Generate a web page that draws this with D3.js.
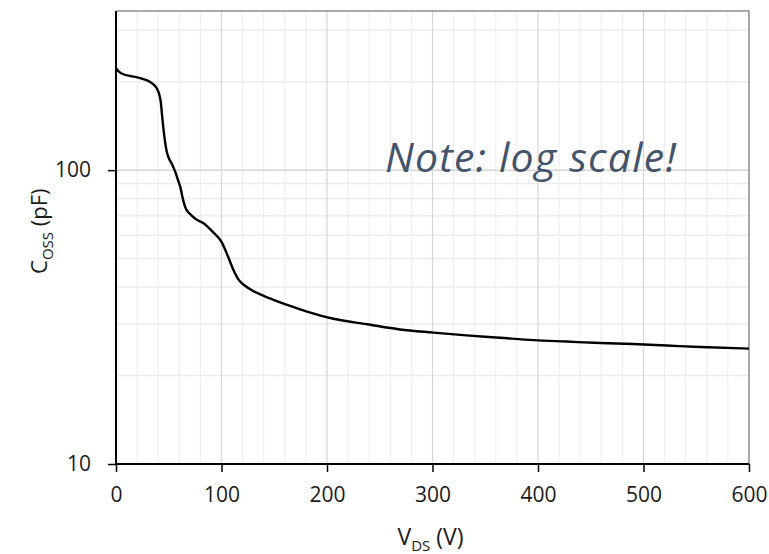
<!DOCTYPE html>
<html>
<head>
<meta charset="utf-8">
<script src="https://cdn.jsdelivr.net/npm/d3@7"></script>
<style>
  body { margin: 0; background: #fff; }
  text { font-family: "Open Sans", "Noto Sans", sans-serif; fill: #1a1a1a; }
</style>
</head>
<body>
<div id="chart"></div>
<script>
// values (V_DS in volts, C_oss in pF)
var vds = [0, 3, 7, 14, 20, 26, 32, 36, 39, 41, 42.5, 43.5, 45, 46.5, 48, 50, 53, 56, 59, 61.5, 63, 65.5, 70, 76, 83, 92, 100, 106, 111, 116, 122, 130, 146, 165, 181, 206, 238, 269, 301, 332, 364, 396, 427, 459, 490, 522, 554, 600];
var coss = [222, 216, 212, 209, 207, 204, 200, 195, 189, 181, 170, 156, 138, 125, 116, 110, 105, 99, 92, 86, 81, 75, 71, 68, 66, 61.5, 57, 51, 46, 42.5, 40.5, 38.8, 36.6, 34.5, 33.0, 31.2, 29.9, 28.7, 28.0, 27.4, 26.9, 26.4, 26.1, 25.8, 25.6, 25.3, 25.0, 24.7];

var xTicks = [0, 100, 200, 300, 400, 500, 600];
var xMinor = [20, 40, 60, 80, 120, 140, 160, 180, 220, 240, 260, 280, 320, 340, 360, 380, 420, 440, 460, 480, 520, 540, 560, 580];
var yTicks = [10, 100];
var yMinor = [20, 30, 40, 50, 60, 70, 80, 90, 200, 300];
var noteText = "Note: log scale!";

var width = 769, height = 554;
var margin = {top: 11, right: 20, bottom: 90, left: 116};
var w = width - margin.left - margin.right,
    h = height - margin.top - margin.bottom;

var svg = d3.select("#chart").append("svg")
  .attr("width", width)
  .attr("height", height);

var g = svg.append("g")
  .attr("transform", "translate(" + margin.left + "," + margin.top + ")");

var x = d3.scaleLinear().domain([0, 600]).range([0, w]);
var y = d3.scaleLog().domain([10, 348]).range([h, 0]);

// grid: minor first, then major lines a touch darker
g.append("g").selectAll("line").data(xMinor).enter().append("line")
  .attr("x1", function(d) { return x(d); }).attr("x2", function(d) { return x(d); })
  .attr("y1", 0).attr("y2", h)
  .attr("stroke", "#ececec").attr("stroke-width", 1);

g.append("g").selectAll("line").data(yMinor).enter().append("line")
  .attr("x1", 0).attr("x2", w)
  .attr("y1", function(d) { return y(d); }).attr("y2", function(d) { return y(d); })
  .attr("stroke", "#ececec").attr("stroke-width", 1.5);

g.append("g").selectAll("line").data(xTicks.slice(1, -1)).enter().append("line")
  .attr("x1", function(d) { return x(d); }).attr("x2", function(d) { return x(d); })
  .attr("y1", 0).attr("y2", h)
  .attr("stroke", "#d6d6d6").attr("stroke-width", 1.2);

g.append("line")
  .attr("x1", 0).attr("x2", w)
  .attr("y1", y(100)).attr("y2", y(100))
  .attr("stroke", "#d6d6d6").attr("stroke-width", 1.5);

// thin frame on top and right
g.append("path")
  .attr("d", "M0,0H" + w + "V" + h)
  .attr("fill", "none")
  .attr("stroke", "#555")
  .attr("stroke-width", 1);

// the curve
var line = d3.line()
  .x(function(d) { return x(d[0]); })
  .y(function(d) { return y(d[1]); })
  .curve(d3.curveMonotoneX);

g.append("path")
  .datum(d3.zip(vds, coss))
  .attr("d", line)
  .attr("fill", "none")
  .attr("stroke", "#000")
  .attr("stroke-width", 2.4)
  .attr("stroke-linejoin", "round");

// axes
var xAxis = g.append("g")
  .attr("transform", "translate(0," + h + ")")
  .call(d3.axisBottom(x).tickValues(xTicks).tickSize(8).tickPadding(15).tickFormat(d3.format("d")));

var yAxis = g.append("g")
  .call(d3.axisLeft(y).tickValues(yTicks).tickSize(8).tickPadding(17).tickFormat(d3.format("d")));

[xAxis, yAxis].forEach(function(a) {
  a.select(".domain").attr("stroke", "#000").attr("stroke-width", 2);
  a.selectAll(".tick line").attr("stroke", "#000").attr("stroke-width", 1.5);
  a.selectAll(".tick text")
    .attr("fill", "#1a1a1a")
    .style("font-size", "21px")
    .style("font-family", "'Open Sans', sans-serif");
});
yAxis.select(".domain").attr("d", "M0," + h + "V0");
xAxis.select(".domain").attr("d", "M0,0H" + w);

// axis titles with subscripts
var xt = svg.append("text")
  .attr("x", margin.left + x(300) - 2)
  .attr("y", 545)
  .attr("text-anchor", "middle")
  .style("font-size", "23px");
xt.append("tspan").text("V");
xt.append("tspan").attr("dy", 6).style("font-size", "15px").text("DS");
xt.append("tspan").attr("dy", -6).text(" (V)");

var yt = svg.append("text")
  .attr("transform", "translate(47," + (margin.top + y(62)) + ") rotate(-90)")
  .attr("text-anchor", "middle")
  .style("font-size", "22px");
yt.append("tspan").text("C");
yt.append("tspan").attr("dy", 6).style("font-size", "15px").text("OSS");
yt.append("tspan").attr("dy", -6).text(" (pF)");

// annotation
svg.append("text")
  .attr("x", 385)
  .attr("y", 172)
  .style("font-size", "41px")
  .style("letter-spacing", "1.2px")
  .style("font-style", "italic")
  .style("fill", "#44546a")
  .text(noteText);
</script>
</body>
</html>
